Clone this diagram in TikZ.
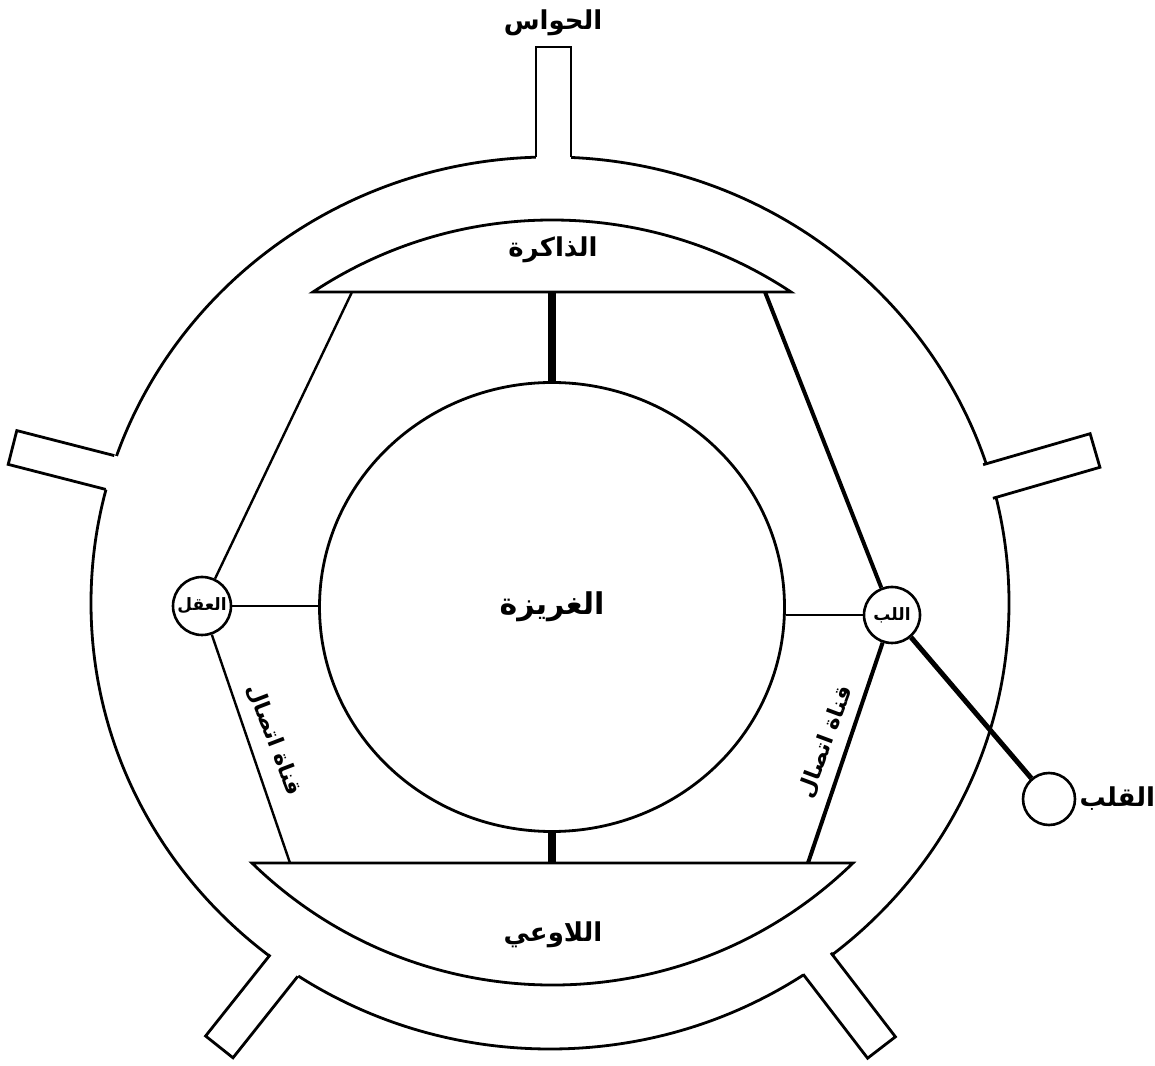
\documentclass[tikz,border=0pt]{standalone}
\usepackage{fontspec}
\newfontfamily\arfont[Script=Arabic]{DejaVu Sans}
\TeXXeTstate=1
\usetikzlibrary{shapes.geometric,calc}
\newcommand{\rtl}[1]{\beginR#1\endR}
\begin{document}
\begin{tikzpicture}[x=1pt,y=1pt,
  lbl/.style={font=\arfont\bfseries\fontsize{#1}{#1}\selectfont, inner sep=0pt},
  rim/.style={line width=2.8pt},
  bar/.style={line width=8pt},
  linkthin/.style={line width=2.4pt},
  linkthick/.style={line width=4pt},
  hub/.style={circle, draw, line width=2.6pt, fill=white, inner sep=0pt, minimum size=#1},
  stubline/.style={line width=2.8pt, line join=miter}]
\useasboundingbox (0,0) rectangle (1155,1065);
% outer rim
\draw[rim] (550,462) ellipse [x radius=459pt, y radius=446pt];
% stubs: erase mouths
\fill[white] (536,902) -- (536,1018) -- (571,1018) -- (571,902) -- cycle;
\fill[white] (120.1,607.9) -- (16.8,634.4) -- (8.2,600.6) -- (111.5,574.1) -- cycle;
\fill[white] (977.3,598.6) -- (1090.1,631.3) -- (1099.9,597.7) -- (987.1,565.0) -- cycle;
\fill[white] (274.0,115.1) -- (205.6,29.0) -- (233.0,7.2) -- (301.4,93.3) -- cycle;
\fill[white] (827.2,117.0) -- (895.4,28.2) -- (867.6,6.8) -- (799.4,95.6) -- cycle;
% stubs: sides
\draw[stubline] (536,908) -- (536,1018) -- (571,1018) -- (571,908);
\draw[stubline] (114.3,609.4) -- (16.8,634.4) -- (8.2,600.6) -- (105.7,575.6);
\draw[stubline] (983.1,600.3) -- (1090.1,631.3) -- (1099.9,597.7) -- (992.9,566.7);
\draw[stubline] (270.3,110.4) -- (205.6,29.0) -- (233.0,7.2) -- (297.7,88.6);
\draw[stubline] (830.9,112.2) -- (895.4,28.2) -- (867.6,6.8) -- (803.1,90.8);
% memory and unconscious segments
\draw[rim, fill=white] (791,773) arc[start angle=56.47, end angle=123.53, radius=432.7pt] -- cycle;
\draw[rim, fill=white] (252,202) -- (853,202) arc[start angle=314.2, end angle=225.8, radius=431.1pt] -- cycle;
\coordinate (memL) at (352,773);
\coordinate (memC) at (552,773);
\coordinate (memR) at (765,773);
\coordinate (uncL) at (290,202);
\coordinate (uncC) at (552,202);
\coordinate (uncR) at (808,202);
% nodes
\node[ellipse, draw, rim, minimum width=465pt, minimum height=449pt, inner sep=0pt, lbl=30] (instinct) at (552,458) {\rtl{الغريزة}};
\node[hub=58pt, lbl=17] (aql) at (202,459) {\rtl{العقل}};
\node[hub=56pt, lbl=17] (lubb) at (892,450) {\rtl{اللب}};
\node[hub=52pt] (qalb) at (1049,266) {};
% connectors
\draw[bar] (memC) -- (instinct.north);
\draw[bar] (instinct.south) -- (uncC);
\draw[linkthin] (memL) -- (aql);
\draw[linkthin] (aql) -- (uncL);
\draw[line width=2pt] (aql.east) -- (aql.east -| instinct.west);
\draw[line width=2pt] (lubb.west) -- (lubb.west -| instinct.east);
\draw[linkthick] (memR) -- (lubb);
\draw[linkthick] (lubb) -- (uncR);
\draw[line width=5pt] (lubb) -- (qalb);
% labels
\node[lbl=26] (hawasL) at (553,1042) {\rtl{الحواس}};
\node[lbl=26] (memoryL) at (553,815) {\rtl{الذاكرة}};
\node[lbl=26] (uncLabel) at (553,130) {\rtl{اللاوعي}};
\node[lbl=26, anchor=west] (qalbL) at ([xshift=3pt]qalb.east) {\rtl{القلب}};
\node[lbl=22, rotate=-69] (chanL) at (274,325) {\rtl{قناة اتصال}};
\node[lbl=22, rotate=69.6] (chanR) at (826,323) {\rtl{قناة اتصال}};
\end{tikzpicture}
\end{document}
